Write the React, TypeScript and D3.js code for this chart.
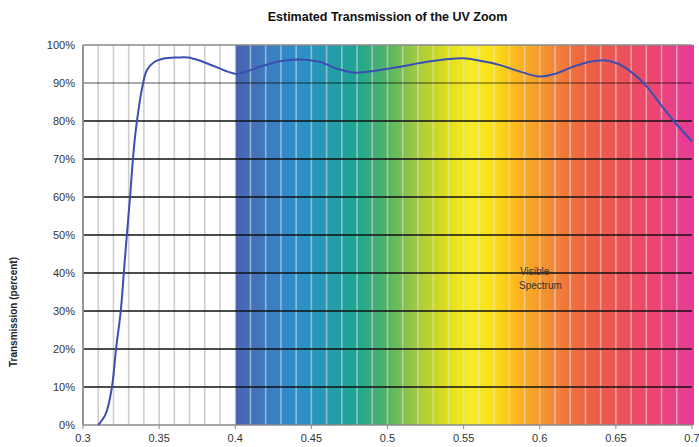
import React from "react";
import * as d3 from "d3";

const WIDTH = 699;
const HEIGHT = 447;

const title = "Estimated Transmission of the UV Zoom";
const yLabel = "Transmission (percent)";
const xTicks = [0.3, 0.35, 0.4, 0.45, 0.5, 0.55, 0.6, 0.65, 0.7];
const xTickLabels = ["0.3", "0.35", "0.4", "0.45", "0.5", "0.55", "0.6", "0.65", "0.7"];
const yTicks = [0, 10, 20, 30, 40, 50, 60, 70, 80, 90, 100];
const minorX = d3.range(31, 70).map((d) => d / 100);

// wavelength (µm) and transmission (%)
const wavelength = [
  0.31, 0.315, 0.319, 0.3217, 0.3248, 0.3268, 0.3288, 0.3309, 0.3328, 0.3345, 0.3365, 0.3385,
  0.342, 0.347, 0.3526, 0.362, 0.369, 0.376, 0.385, 0.393, 0.401, 0.4164, 0.43, 0.443,
  0.455, 0.468, 0.478, 0.488, 0.5086, 0.525, 0.54, 0.55, 0.56, 0.574, 0.587, 0.6,
  0.61, 0.622, 0.633, 0.642, 0.652, 0.661, 0.6705, 0.68, 0.688, 0.7,
];
const transmission = [
  0, 3, 10, 20, 30, 40, 50, 60, 70, 77, 83, 88,
  93.4, 95.6, 96.4, 96.7, 96.7, 96.0, 94.6, 93.3, 92.4, 94.3, 95.8, 96.2,
  95.6, 93.6, 92.7, 93.0, 94.3, 95.5, 96.3, 96.5, 95.9, 94.7, 93.0, 91.7,
  92.4, 94.3, 95.6, 96.0, 95.0, 92.6, 89.0, 84.0, 80.0, 74.6,
];

// spectrum colour stops (wavelength, colour)
const spectrumStops = [0.4, 0.42, 0.44, 0.46, 0.48, 0.5, 0.52, 0.54, 0.555, 0.57, 0.58, 0.59, 0.6, 0.61, 0.62, 0.63, 0.64, 0.65, 0.66, 0.67, 0.68, 0.69, 0.7];
const spectrumColors = [
  "#4a62ae", "#3d7cc0", "#2e8ecb", "#2699b0", "#1fa592", "#52b563", "#a6cb3e", "#e1df1a", "#f6ec2a",
  "#fbe016", "#fcc41c", "#f9ab24", "#f59a2b", "#f2853a", "#ef713c", "#ee6344", "#ed5b4c", "#ec5656",
  "#ec4e60", "#ec4869", "#ea4479", "#e8408a", "#e63a96",
];

const margin = { left: 83, right: 7, top: 45, bottom: 22 };

export default function App() {
  const x = d3.scaleLinear().domain([0.3, 0.7]).range([margin.left, WIDTH - margin.right]);
  const y = d3.scaleLinear().domain([0, 100]).range([HEIGHT - margin.bottom, margin.top]);
  const data = wavelength.map((w, i) => [w, transmission[i]] as [number, number]);
  const line = d3
    .line<[number, number]>()
    .x((d) => x(d[0]))
    .y((d) => y(d[1]))
    .curve(d3.curveCatmullRom.alpha(0.5));

  const x0 = x(0.3);
  const x1 = x(0.7);
  const specX0 = x(0.4);
  const font = "'Liberation Sans', Arial, sans-serif";

  return (
    <svg
      width={WIDTH}
      height={HEIGHT}
      style={{ position: "absolute", left: 0, top: 0, background: "#fff" }}
      fontFamily={font}
    >
      <defs>
        <linearGradient id="spec" x1={specX0} x2={x1} y1={0} y2={0} gradientUnits="userSpaceOnUse">
          {spectrumStops.map((s, i) => (
            <stop key={i} offset={(s - 0.4) / 0.3} stopColor={spectrumColors[i]} />
          ))}
        </linearGradient>
      </defs>
      <text x={(x0 + x1) / 2} y={21} textAnchor="middle" fontSize={12.5} fontWeight="bold" fill="#111">
        {title}
      </text>
      <rect x={specX0} y={y(100)} width={x1 - specX0 + 2} height={y(0) - y(100)} fill="url(#spec)" />
      {minorX.map((v) => (
        <line
          key={v}
          x1={x(v)}
          x2={x(v)}
          y1={y(100)}
          y2={y(0)}
          stroke={v < 0.4 ? "#cfcfcf" : "rgba(225,225,225,0.55)"}
          strokeWidth={1.6}
        />
      ))}
      {yTicks.map((t) => (
        <line
          key={t}
          x1={x0}
          x2={x1}
          y1={y(t)}
          y2={y(t)}
          stroke={t === 100 ? "#8a8a8a" : t === 90 ? "rgba(0,0,0,0.45)" : t === 0 ? "#8a8a8a" : "#111"}
          strokeWidth={t === 0 || t === 100 ? 1.5 : 1.3}
        />
      ))}
      <line x1={x0} x2={x0} y1={y(100)} y2={y(0)} stroke="#8a8a8a" strokeWidth={1.8} />
      {xTicks.map((t) => (
        <line key={t} x1={x(t)} x2={x(t)} y1={y(0)} y2={y(0) + 4} stroke="#8a8a8a" strokeWidth={1} />
      ))}
      {xTicks.map((t, i) => (
        <text key={t} x={x(t)} y={y(0) + 17} textAnchor="middle" fontSize={11} fill="#333">
          {xTickLabels[i]}
        </text>
      ))}
      {yTicks.map((t) => (
        <text key={t} x={x0 - 8} y={y(t) + 4} textAnchor="end" fontSize={11} fill="#333">
          {`${t}%`}
        </text>
      ))}
      <text
        transform={`translate(17, 312) rotate(-90)`}
        textAnchor="middle"
        fontSize={10}
        fontWeight="bold"
        fill="#222"
      >
        {yLabel}
      </text>
      <text x={520} y={275} fontSize={10} fill="#333">Visible</text>
      <text x={519} y={289} fontSize={10} fill="#333">Spectrum</text>
      <path d={line(data) || ""} fill="none" stroke="#3b4fb3" strokeWidth={2} />
    </svg>
  );
}
